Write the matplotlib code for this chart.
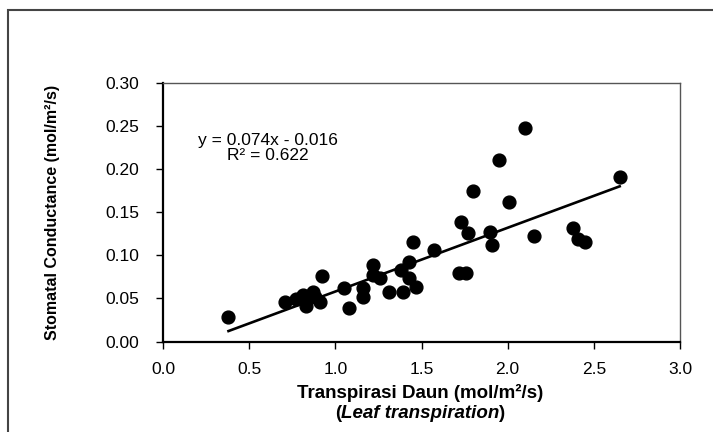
import numpy as np
import matplotlib
matplotlib.use("Agg")
import matplotlib.pyplot as plt
from matplotlib.patches import Rectangle

plt.rcParams["font.family"] = ["Liberation Sans", "DejaVu Sans"]

# ============ DATA ============
transpiration = [0.38, 0.71, 0.77, 0.81, 0.83, 0.87, 0.88, 0.91, 0.92,
                 1.05, 1.08, 1.16, 1.16, 1.22, 1.22, 1.26, 1.31, 1.38,
                 1.39, 1.43, 1.43, 1.47, 1.45, 1.57, 1.72, 1.76, 1.73,
                 1.77, 1.80, 1.90, 1.91, 1.95, 2.01, 2.10, 2.15, 2.38,
                 2.41, 2.45, 2.65]
conductance = [0.028, 0.046, 0.049, 0.054, 0.041, 0.057, 0.052, 0.046, 0.076,
               0.062, 0.039, 0.062, 0.052, 0.089, 0.077, 0.074, 0.058, 0.083,
               0.058, 0.092, 0.074, 0.063, 0.115, 0.106, 0.080, 0.080, 0.139,
               0.126, 0.175, 0.127, 0.112, 0.211, 0.162, 0.248, 0.123, 0.132,
               0.119, 0.115, 0.191]
slope, intercept = 0.074, -0.016
x_ticks = [0.0, 0.5, 1.0, 1.5, 2.0, 2.5, 3.0]
y_ticks = [0.00, 0.05, 0.10, 0.15, 0.20, 0.25, 0.30]

# ============ FIGURE ============
fig = plt.figure(figsize=(7.13, 4.32), dpi=100)
ax = fig.add_axes([163 / 713, 90.5 / 432, 517 / 713, 258.5 / 432])

ax.scatter(transpiration, conductance, s=85, color="black", zorder=3)
xf = np.array([min(transpiration), max(transpiration)])
ax.plot(xf, slope * xf + intercept, color="black", lw=1.9, zorder=2)

ax.set_xlim(0, 3.0)
ax.set_ylim(0, 0.30)
ax.set_xticks(x_ticks)
ax.set_xticklabels(["%.1f" % v for v in x_ticks])
ax.set_yticks(y_ticks)
ax.set_yticklabels(["%.2f" % v for v in y_ticks])
ax.tick_params(direction="out", length=5, width=1, labelsize=12.5,
               colors="black")
ax.tick_params(axis="y", pad=12)
ax.tick_params(axis="x", pad=10)

for side in ("left", "bottom"):
    ax.spines[side].set_linewidth(1.6)
    ax.spines[side].set_color("black")
for side in ("top", "right"):
    ax.spines[side].set_linewidth(1.0)
    ax.spines[side].set_color("#555555")

ax.text(0.61, 0.224, "y = 0.074x - 0.016\nR² = 0.622", fontsize=12.5,
        ha="center", va="center", linespacing=1.0)

ax.set_ylabel("Stomatal Conductance (mol/m²/s)", fontsize=11.5,
              fontweight="bold")
ax.yaxis.set_label_coords((60 - 163) / 517, 0.5)

fig.text(420 / 713, 1 - 393 / 432, "Transpirasi Daun (mol/m²/s)",
         fontsize=13.5, fontweight="bold", ha="center", va="center")
t = fig.text(420 / 713, 1 - 414 / 432, "Leaf transpiration",
             fontsize=13.5, fontweight="bold", style="italic",
             ha="center", va="center")
ax.annotate("(", xy=(0, 0.5), xycoords=t, ha="right", va="center",
            fontsize=13.5, fontweight="bold", annotation_clip=False)
ax.annotate(")", xy=(1, 0.5), xycoords=t, ha="left", va="center",
            fontsize=13.5, fontweight="bold", annotation_clip=False)

# outer chart frame (cut off by the image edge)
fig.patches.append(Rectangle((8 / 713, -0.5), 2.0, 0.5 + 1 - 10 / 432,
                             transform=fig.transFigure, fill=False,
                             edgecolor="#444444", lw=1.5))

fig.savefig("out.png", dpi=100)
